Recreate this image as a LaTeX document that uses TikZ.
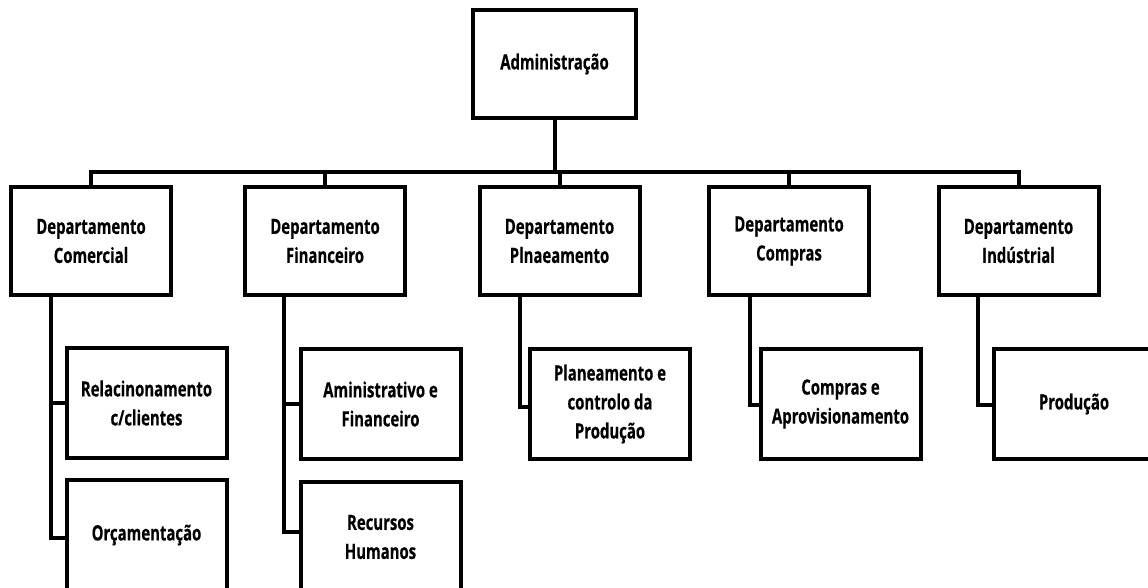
\documentclass[tikz,border=0pt]{standalone}
\usepackage{fontspec}
\newfontfamily\orgfont{Open Sans}[FakeStretch=0.71, FakeBold=0.4]
\tikzset{
  orgbox/.style={draw, line width=4pt, outer sep=0pt, inner sep=0pt,
    fill=white, align=center, font=\orgfont\bfseries\fontsize{21}{29}\selectfont},
  dept/.style={orgbox, minimum width=160pt, minimum height=108pt},
  sub/.style={orgbox, minimum width=160pt, minimum height=110pt},
  link/.style={line width=4pt}
}
\begin{document}
\begin{tikzpicture}[x=1pt, y=-1pt]
\useasboundingbox (0,0) rectangle (1148,587);
\clip (0,0) rectangle (1148,587);
\fill[white] (0,0) rectangle (1148,587);

% top level
\node[orgbox, minimum width=163pt, minimum height=108pt] (adm) at (554.5,64) {Administração};

% departments
\node[dept] (com) at (91,241)   {Departamento\\Comercial};
\node[dept] (fin) at (325,241)  {Departamento\\Financeiro};
\node[dept] (pla) at (559.5,241) {Departamento\\Plnaeamento};
\node[dept] (cpr) at (789,241)  {Departamento\\Compras};
\node[dept] (ind) at (1018.5,241) {Departamento\\Indústrial};

% sections
\node[sub] (rel) at (146.5,403) {Relacinonamento\\c/clientes};
\node[sub] (orc) at (146.5,535) {Orçamentação};
\node[sub] (adf) at (380.5,404) {Aministrativo e\\Financeiro};
\node[sub] (rh)  at (380.5,537) {Recursos\\Humanos};
\node[sub] (plp) at (610,404)   {Planeamento e\\controlo da\\Produção};
\node[sub] (cap) at (840.5,404) {Compras e\\Aprovisionamento};
\node[sub] (pro) at (1074,404)  {Produção};

% bus from the top box to the departments
\coordinate (bus) at (554,172);
\draw[link] (adm.south) -- (adm.south |- bus);
\draw[link] (com.north) -- (com.north |- bus) -- (ind.north |- bus) -- (ind.north);
\foreach \d in {fin,pla,cpr}
  \draw[link] (\d.north) -- (\d.north |- bus);

% department to section links
\draw[link] ([xshift=40pt]com.south west) |- (rel.west);
\draw[link] ([xshift=40pt]com.south west) |- ([yshift=-3pt]orc.west);
\draw[link] ([xshift=39pt]fin.south west) |- (adf.west);
\draw[link] ([xshift=39pt]fin.south west) |- ([yshift=5pt]rh.west);
\draw[link] ([xshift=40pt]pla.south west) |- ([yshift=-3pt]plp.west);
\draw[link] ([xshift=41pt]cpr.south west) |- ([yshift=-1pt]cap.west);
\draw[link] ([xshift=39pt]ind.south west) |- ([yshift=-1pt]pro.west);
\end{tikzpicture}
\end{document}
